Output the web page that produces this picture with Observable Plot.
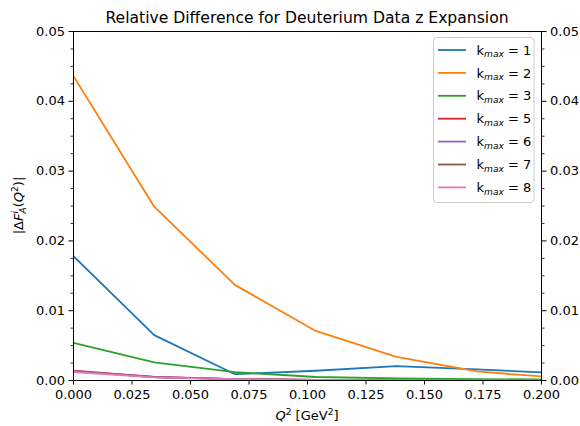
<!DOCTYPE html>
<html>
<head>
<meta charset="utf-8">
<script src="https://cdn.jsdelivr.net/npm/d3@7"></script>
<script src="https://cdn.jsdelivr.net/npm/@observablehq/plot@0.6"></script>
<style>
  html, body { margin: 0; padding: 0; background: white; }
  #chart { width: 580px; height: 426px; }
</style>
</head>
<body>
<div id="chart"></div>
<script>
const titleText = "Relative Difference for Deuterium Data z Expansion";
const q2 = [0, 0.0345, 0.069, 0.1035, 0.138, 0.1725, 0.2];
const kNames = ["1", "2", "3", "5", "6", "7", "8"];
const colors = ["#1f77b4", "#ff7f0e", "#2ca02c", "#d62728", "#9467bd", "#8c564b", "#e377c2"];
const k1 = [0.0178, 0.0065, 0.0009, 0.0014, 0.00205, 0.0016, 0.00115];
const k2 = [0.0436, 0.0249, 0.0137, 0.0071, 0.0034, 0.0013, 0.00058];
const k3 = [0.0054, 0.0026, 0.0012, 0.0005, 0.0003, 0.0002, 0.00015];
const k5 = [0.0014, 0.0005, 0.0002, 0.0001, 0.00006, 0.00004, 0.00003];
const k6 = [0.00135, 0.0005, 0.0002, 0.0001, 0.00006, 0.00004, 0.00003];
const k7 = [0.0013, 0.00048, 0.0002, 0.0001, 0.00005, 0.00004, 0.00003];
const k8 = [0.00122, 0.00045, 0.00018, 0.00009, 0.00005, 0.00003, 0.00002];
const xTicks = [0, 0.025, 0.05, 0.075, 0.1, 0.125, 0.15, 0.175, 0.2];
const yTicks = [0, 0.01, 0.02, 0.03, 0.04, 0.05];
const yMinor = [0.0025, 0.005, 0.0075, 0.0125, 0.015, 0.0175, 0.0225, 0.025, 0.0275, 0.0325, 0.035, 0.0375, 0.0425, 0.045, 0.0475];

const seriesValues = [k1, k2, k3, k5, k6, k7, k8];
const rows = seriesValues.flatMap((vals, s) => q2.map((x, i) => ({x, y: vals[i], k: kNames[s]})));

const W = 580, H = 426, mL = 73, mR = 39, mT = 31, mB = 46;
const FS = 13, SS = 9.1;

const chart = Plot.plot({
  width: W, height: H,
  marginLeft: mL, marginRight: mR, marginTop: mT, marginBottom: mB,
  x: {domain: [0, 0.2]},
  y: {domain: [0, 0.05]},
  color: {domain: kNames, range: colors},
  style: {fontFamily: "DejaVu Sans", fontSize: FS + "px", color: "black", background: "white"},
  marks: [
    Plot.lineY(rows, {x: "x", y: "y", stroke: "k", strokeWidth: 1.8, clip: true}),
    Plot.frame({stroke: "black", strokeWidth: 1}),
    Plot.axisX({ticks: xTicks, tickFormat: d3.format(".3f"), tickSize: 4.5, tickPadding: 5, strokeWidth: 1, label: null}),
    Plot.axisY({anchor: "left", ticks: yTicks, tickFormat: d3.format(".2f"), tickSize: 4.5, tickPadding: 4, strokeWidth: 1, label: null}),
    Plot.axisY({anchor: "right", ticks: yTicks, tickFormat: d3.format(".2f"), tickSize: 4.5, tickPadding: 4, strokeWidth: 1, label: null}),
    Plot.axisY({anchor: "left", ticks: yMinor, tickFormat: () => "", tickSize: 2.5, strokeWidth: 0.8, label: null}),
    Plot.axisY({anchor: "right", ticks: yMinor, tickFormat: () => "", tickSize: 2.5, strokeWidth: 0.8, label: null})
  ]
});
document.getElementById("chart").appendChild(chart);

const svg = d3.select(chart);
const cx = (mL + (W - mR)) / 2;
const cy = (mT + (H - mB)) / 2;

// Title
svg.append("text")
  .attr("x", cx).attr("y", 23)
  .attr("text-anchor", "middle")
  .attr("font-size", 15.6)
  .attr("fill", "black")
  .text(titleText);

// X label: Q^2 [GeV^2]
const xl = svg.append("text")
  .attr("x", cx).attr("y", 420)
  .attr("text-anchor", "middle")
  .attr("font-size", FS)
  .attr("fill", "black");
xl.append("tspan").attr("font-style", "italic").text("Q");
xl.append("tspan").attr("font-size", SS).attr("dy", -5).text("2");
xl.append("tspan").attr("dy", 5).text(" [GeV");
xl.append("tspan").attr("font-size", SS).attr("dy", -5).text("2");
xl.append("tspan").attr("dy", 5).text("]");

// Y label: |ΔF_A^i(Q^2)|
const yl = svg.append("text")
  .attr("transform", `translate(23,${cy}) rotate(-90)`)
  .attr("text-anchor", "middle")
  .attr("font-size", FS)
  .attr("fill", "black");
yl.append("tspan").text("|Δ");
yl.append("tspan").attr("font-style", "italic").text("F");
yl.append("tspan").attr("font-style", "italic").attr("font-size", SS).attr("dy", -5.5).text("i");
yl.append("tspan").attr("font-style", "italic").attr("font-size", SS).attr("dx", -2.5).attr("dy", 8.5).text("A");
yl.append("tspan").attr("dy", -3).text("(");
yl.append("tspan").attr("font-style", "italic").text("Q");
yl.append("tspan").attr("font-size", SS).attr("dy", -5.5).text("2");
yl.append("tspan").attr("dy", 5.5).text(")|");

// Legend
const lg = svg.append("g");
lg.append("rect")
  .attr("x", 433.5).attr("y", 37.5).attr("width", 100.5).attr("height", 165)
  .attr("rx", 3)
  .attr("fill", "white").attr("fill-opacity", 0.8)
  .attr("stroke", "#cccccc").attr("stroke-width", 1);
kNames.forEach((name, i) => {
  const ly = 50 + i * 22.9;
  lg.append("line")
    .attr("x1", 438).attr("x2", 466).attr("y1", ly).attr("y2", ly)
    .attr("stroke", colors[i]).attr("stroke-width", 1.8);
  const t = lg.append("text")
    .attr("x", 476.5).attr("y", ly + 4.6)
    .attr("text-anchor", "start")
    .attr("font-size", FS).attr("fill", "black");
  t.append("tspan").text("k");
  t.append("tspan").attr("font-style", "italic").attr("font-size", SS).attr("dy", 2.8).text("max");
  t.append("tspan").attr("dy", -2.8).text(" = " + name);
});
</script>
</body>
</html>
